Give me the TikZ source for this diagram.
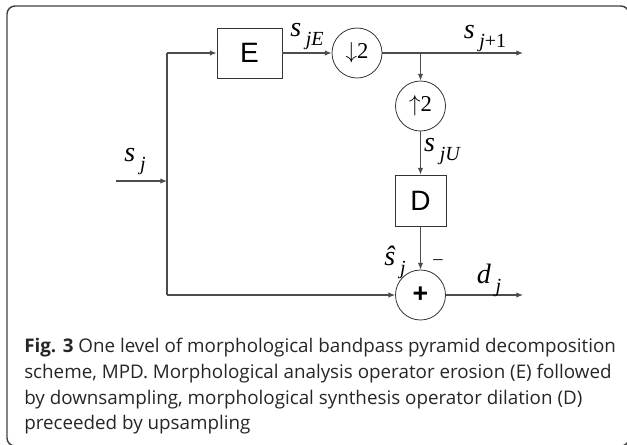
\documentclass[tikz,border=0pt]{standalone}
\usepackage{fontspec}
\setmainfont{Open Sans}
\newfontfamily\arial{Liberation Sans}
\newfontfamily\tms{Liberation Serif}
\usetikzlibrary{arrows.meta}

\begin{document}
\begin{tikzpicture}[x=0.75pt,y=-0.75pt]
  \def\dia{37.5pt}       % circle diameter
  \def\sig#1#2{{\tms\itshape #1}\,\raisebox{-0.6ex}{\fontsize{15}{15}\selectfont\tms\itshape #2}}

  \tikzstyle{wire}=[black!70,line width=0.8pt]
  \tikzstyle{flow}=[wire,-{Latex[length=5pt,width=4pt]}]
  \tikzstyle{opbox}=[draw,black!80,line width=0.6pt,text=black,font=\arial\fontsize{21}{21}\selectfont]
  \tikzstyle{opcirc}=[draw,circle,black!80,line width=0.6pt,minimum size=\dia,inner sep=0pt,text=black,font=\tms\fontsize{17}{17}\selectfont]
  \tikzstyle{lab}=[inner sep=0pt,font=\fontsize{21}{21}\selectfont]

  \useasboundingbox (0,0) rectangle (627,444);

  % FRAME
  \draw[black!75,line width=1.1pt,rounded corners=6pt] (7,446) -- (7,6) -- (629,6) -- (629,446) -- cycle;

  % BLOCKS
  \node[opbox,minimum width=48.75pt,minimum height=37.5pt] (E) at (249.5,53) {E};
  \node[opcirc] (down) at (357,53) {$\downarrow$2};
  \node[opcirc] (up) at (420.5,106) {$\uparrow$2};
  \node[opbox,minimum width=38.25pt,minimum height=38.25pt] (D) at (420.5,200.5) {D};
  \node[opcirc,font=\arial\bfseries\fontsize{20}{20}\selectfont] (sum) at (420.5,295) {+};

  % WIRES
  \coordinate (in) at (116,181);
  \coordinate (top) at (167,53);
  \coordinate (bot) at (167,295);
  \coordinate (tap) at (420.5,53);
  \coordinate (next) at (523,53);
  \coordinate (diff) at (523,295);
  \draw[wire] (top) -- (bot);
  \draw[flow] (in) -- (in -| top);
  \draw[flow] (top) -- (E);
  \draw[flow] (E) -- (down);
  \draw[flow] (down) -- (next);
  \draw[flow] (tap) -- (up);
  \draw[flow] (up) -- (D);
  \draw[flow] (D) -- (sum);
  \draw[flow] (bot) -- (sum);
  \draw[flow] (sum) -- (diff);

  % LABELS
  \node[lab] (sj) at (135,162) {\sig{s}{j}};
  \node[lab] (sjE) at (307,37) {\sig{s}{jE}};
  \node[lab] (snext) at (485,39) {\sig{s}{j\upshape+1}};
  \node[lab] (sjU) at (442,152) {\sig{s}{jU}};
  \node[lab] (shat) at (395,262) {\sig{\^s}{j}};
  \node[lab,font=\tms\fontsize{14}{14}\selectfont] (minus) at (438,262) {\textendash};
  \node[lab] (dj) at (489,280) {\sig{d}{j}};

  % CAPTION
  \node[anchor=north west,align=left,inner sep=0pt,text=black!85,
        font=\fontsize{14.1}{19.3}\selectfont] (cap) at (24,338)
    {\textbf{Fig. 3} One level of morphological bandpass pyramid decomposition\\
     scheme, MPD. Morphological analysis operator erosion (E) followed\\
     by downsampling, morphological synthesis operator dilation (D)\\
     preceeded by upsampling};
\end{tikzpicture}
\end{document}
